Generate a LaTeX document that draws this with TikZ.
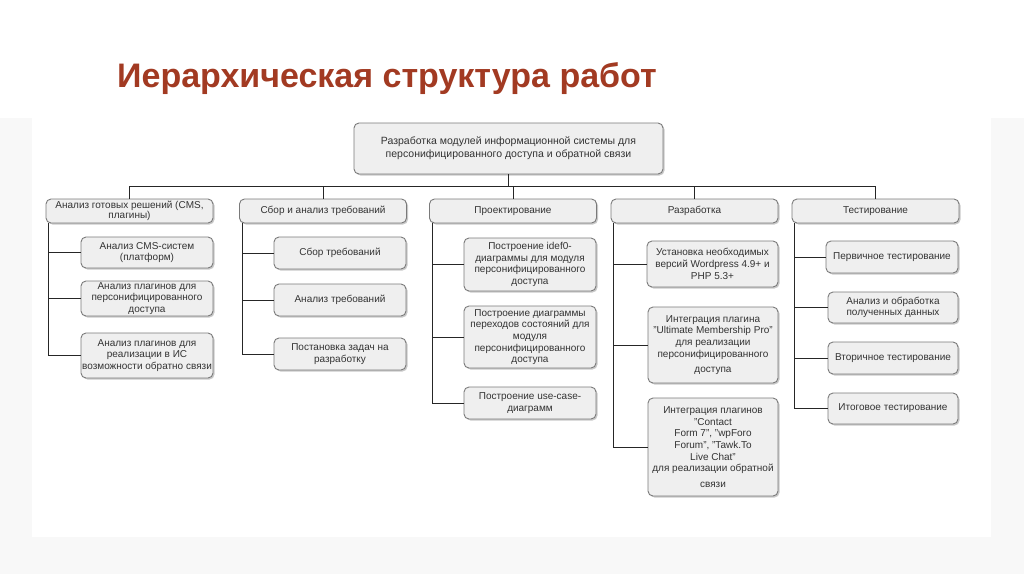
\documentclass[tikz,border=0pt]{standalone}
\usepackage{fontspec}
\setmainfont{Liberation Sans}
\usetikzlibrary{shadows,calc}
\definecolor{titlered}{HTML}{A23A22}
\definecolor{boxfill}{HTML}{EFEFEF}
\definecolor{boxline}{HTML}{7A7A7A}
\definecolor{txt}{HTML}{333333}
\definecolor{margin}{HTML}{F8F8F8}
\newcommand\dq{\char34\relax}
\tikzset{
  wbsbox/.style={draw=boxline, line width=0.9pt, fill=boxfill, rounded corners=5pt,
    drop shadow={shadow xshift=1.5pt, shadow yshift=-1.5pt, opacity=0.35, fill=black!60},
    align=center, text=txt, inner sep=1pt,
    font=\fontsize{10}{11.7}\selectfont},
  lone/.style={wbsbox, minimum width=167pt, minimum height=24pt},
  ltwo/.style={wbsbox, minimum width=132pt},
  conn/.style={draw=black!85, line width=1pt},
}
\begin{document}
\begin{tikzpicture}[x=1pt,y=-1pt]
\useasboundingbox (0,0) rectangle (1024,574);
\fill[margin] (0,0) rectangle (1024,574);
\fill[white] (0,0) rectangle (1024,118);
\fill[white] (32,118) rectangle (991,537);

\node[anchor=base west, text=titlered, font=\fontsize{34}{36}\selectfont\bfseries, inner sep=0pt] (title) at (117,87) {Иерархическая структура работ};

\node[wbsbox, minimum width=309pt, minimum height=51pt, font=\fontsize{10.5}{13}\selectfont] (root) at (508.5,148.5)
  {Разработка модулей информационной системы для\\персонифицированного доступа и обратной связи};

\node[lone, font=\fontsize{10}{10}\selectfont] (a) at (129.5,211) {Анализ готовых решений (CMS,\\плагины)};
\node[lone] (b) at (323,211) {Сбор и анализ требований};
\node[lone] (c) at (513,211) {Проектирование};
\node[lone] (d) at (694.5,211) {Разработка};
\node[lone] (e) at (875.5,211) {Тестирование};

\coordinate (bus) at (0,186);
\draw[conn] (a.north) -- (a.north |- bus) -| (e.north);
\draw[conn] (b.north) -- (b.north |- bus);
\draw[conn] (c.north) -- (c.north |- bus);
\draw[conn] (d.north) -- (d.north |- bus);
\draw[conn] (root.south) -- (root.south |- bus);

% column 1
\node[ltwo, minimum height=31pt] (a1) at (147,252.5) {Анализ CMS-систем\\(платформ)};
\node[ltwo, minimum height=35pt] (a2) at (147,298.5) {Анализ плагинов для\\персонифицированного\\доступа};
\node[ltwo, minimum height=45pt] (a3) at (147,355.5) {Анализ плагинов для\\реализации в ИС\\возможности обратно связи};
% column 2
\node[ltwo, minimum height=32pt] (b1) at (340,253) {Сбор требований};
\node[ltwo, minimum height=32pt] (b2) at (340,300) {Анализ требований};
\node[ltwo, minimum height=32pt] (b3) at (340,354) {Постановка задач на\\разработку};
% column 3
\node[ltwo, minimum height=53pt] (c1) at (530,264.5) {Построение idef0-\\диаграммы для модуля\\персонифицированного\\доступа};
\node[ltwo, minimum height=62pt] (c2) at (530,337) {Построение диаграммы\\переходов состояний для\\модуля\\персонифицированного\\доступа};
\node[ltwo, minimum height=32pt] (c3) at (530,403) {Построение use-case-\\диаграмм};
% column 4
\node[ltwo, minimum width=131pt, minimum height=46pt] (d1) at (712.5,264) {Установка необходимых\\версий Wordpress 4.9+ и\\PHP 5.3+};
\node[ltwo, minimum width=130pt, minimum height=76pt] (d2) at (713,345) {Интеграция плагина\\\dq Ultimate Membership Pro\dq\\для реализации\\персонифицированного\\[4pt]доступа};
\node[ltwo, minimum width=130pt, minimum height=98pt] (d3) at (713,447) {Интеграция плагинов\\\dq Contact\\Form 7\dq, \dq wpForo\\Forum\dq, \dq Tawk.To\\Live Chat\dq\\для реализации обратной\\[4pt]связи};
% column 5
\node[ltwo, minimum height=32pt] (e1) at (892,257) {Первичное тестирование};
\node[ltwo, minimum width=130pt, minimum height=31pt] (e2) at (893,307.5) {Анализ и обработка\\полученных данных};
\node[ltwo, minimum width=130pt, minimum height=32pt] (e3) at (893,358) {Вторичное тестирование};
\node[ltwo, minimum width=130pt, minimum height=31pt] (e4) at (893,408.5) {Итоговое тестирование};

% spines
\foreach \p/\kids in {a/{a1,a2,a3}, b/{b1,b2,b3}, c/{c1,c2,c3}, d/{d1,d2,d3}, e/{e1,e2,e3,e4}}{
  \foreach \k in \kids {
    \draw[conn] ($(\p.south west)+(3,0)$) |- (\k.west);
  }
}
\end{tikzpicture}
\end{document}
